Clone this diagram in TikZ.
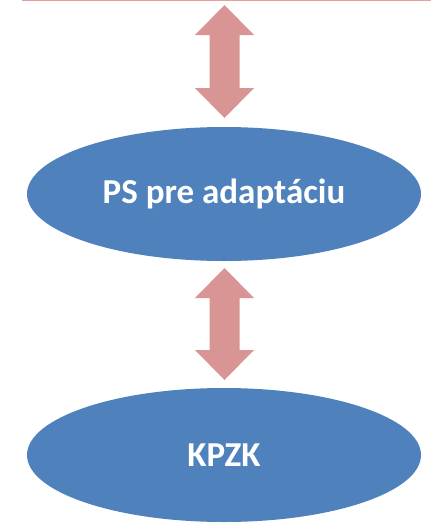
\documentclass[tikz,border=0pt]{standalone}
\usepackage{fontspec}
\setmainfont{Carlito}
\usetikzlibrary{shapes.geometric}
\definecolor{ovalblue}{HTML}{4F81BD}
\definecolor{arrowpink}{HTML}{D99594}
\definecolor{boxpink}{HTML}{E6A0A0}
\tikzset{
  oval/.style={ellipse, fill=ovalblue, draw=none, minimum width=394pt, minimum height=134pt, inner sep=0pt,
    text=white, font=\fontsize{35pt}{38pt}\selectfont\bfseries},
}
\newcommand{\dblarrow}[3]{% x center, top y, bottom y (in pt, y downward)
  \fill[arrowpink] (#1pt,-#2pt) -- ++(29.5pt,-30pt) -- ++(-14.5pt,0) -- ++(0,{-(#3-#2-60)*1pt}) -- ++(14.5pt,0)
    -- ++(-29.5pt,-30pt) -- ++(-29.5pt,30pt) -- ++(14.5pt,0) -- ++(0,{(#3-#2-60)*1pt}) -- ++(-14.5pt,0) -- cycle;}
\begin{document}
\begin{tikzpicture}[x=1pt,y=1pt]
\useasboundingbox (0,0) rectangle (438,-523);
\begin{scope}
\clip (0,0) rectangle (438,-523);
\draw[boxpink, line width=1.5pt, fill=white] (23,30) rectangle (430,-0.5);
\node[oval] (ps) at (224,-194) {PS pre adaptáciu};
\node[oval] (kpzk) at (224,-455) {KPZK};
\end{scope}
\dblarrow{224.5}{5}{118}
\dblarrow{224.5}{268}{380}
\end{tikzpicture}
\end{document}
